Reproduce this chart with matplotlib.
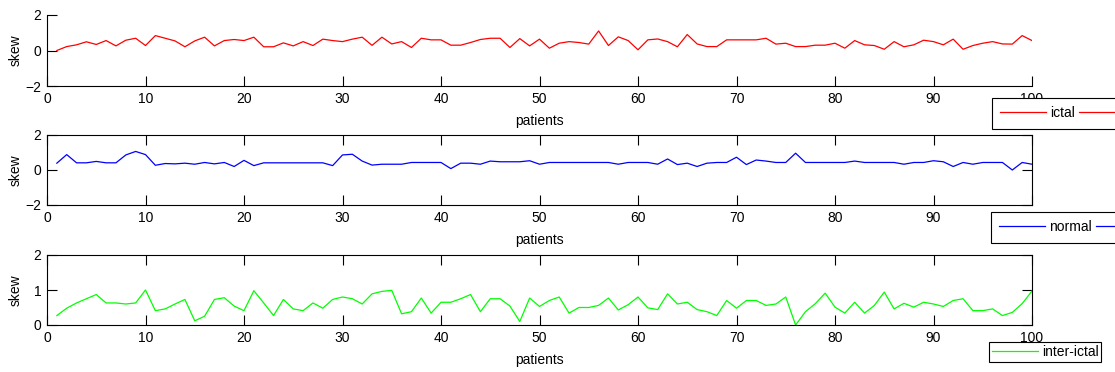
import matplotlib
matplotlib.use("Agg")
import matplotlib.pyplot as plt
from matplotlib.lines import Line2D
import numpy as np

plt.rcParams['font.family'] = ['Liberation Sans', 'DejaVu Sans']
plt.rcParams['font.size'] = 10

patients = list(range(1, 101))

ictal = [0.00, 0.22, 0.32, 0.49, 0.34, 0.56, 0.26, 0.58, 0.69, 0.28,
         0.84, 0.69, 0.54, 0.21, 0.54, 0.75, 0.26, 0.56, 0.62, 0.56,
         0.75, 0.21, 0.21, 0.43, 0.26, 0.50, 0.28, 0.64, 0.56, 0.50,
         0.64, 0.75, 0.29, 0.75, 0.37, 0.50, 0.17, 0.69, 0.60, 0.60,
         0.30, 0.30, 0.45, 0.62, 0.69, 0.69, 0.17, 0.67, 0.26, 0.64,
         0.13, 0.41, 0.50, 0.45, 0.36, 1.10, 0.28, 0.77, 0.56, 0.04,
         0.60, 0.65, 0.50, 0.21, 0.90, 0.37, 0.22, 0.22, 0.60, 0.60,
         0.60, 0.60, 0.69, 0.36, 0.41, 0.22, 0.22, 0.30, 0.30, 0.41,
         0.13, 0.56, 0.32, 0.28, 0.07, 0.50, 0.21, 0.32, 0.58, 0.50,
         0.32, 0.64, 0.07, 0.28, 0.41, 0.50, 0.37, 0.36, 0.84, 0.56]

normal = [0.39, 0.88, 0.41, 0.41, 0.49, 0.41, 0.41, 0.86, 1.06, 0.88,
          0.27, 0.37, 0.35, 0.39, 0.33, 0.43, 0.35, 0.43, 0.20, 0.55,
          0.25, 0.41, 0.41, 0.41, 0.41, 0.41, 0.41, 0.41, 0.25, 0.86,
          0.90, 0.51, 0.28, 0.33, 0.33, 0.33, 0.43, 0.43, 0.43, 0.43,
          0.08, 0.39, 0.39, 0.33, 0.51, 0.47, 0.47, 0.47, 0.53, 0.33,
          0.43, 0.43, 0.43, 0.43, 0.43, 0.43, 0.43, 0.33, 0.43, 0.43,
          0.43, 0.33, 0.63, 0.31, 0.39, 0.20, 0.39, 0.43, 0.43, 0.73,
          0.31, 0.57, 0.51, 0.43, 0.43, 0.96, 0.43, 0.43, 0.43, 0.43,
          0.43, 0.51, 0.43, 0.43, 0.43, 0.43, 0.33, 0.43, 0.43, 0.53,
          0.47, 0.20, 0.43, 0.33, 0.43, 0.43, 0.43, 0.00, 0.43, 0.33]

inter_ictal = [0.27, 0.48, 0.63, 0.75, 0.87, 0.63, 0.63, 0.60, 0.63, 1.00,
               0.41, 0.46, 0.60, 0.73, 0.12, 0.25, 0.73, 0.78, 0.54, 0.41,
               0.98, 0.63, 0.27, 0.73, 0.46, 0.41, 0.63, 0.48, 0.73, 0.80,
               0.75, 0.60, 0.89, 0.96, 0.99, 0.32, 0.38, 0.77, 0.34, 0.65,
               0.65, 0.75, 0.87, 0.38, 0.75, 0.75, 0.54, 0.10, 0.77, 0.53,
               0.70, 0.80, 0.34, 0.50, 0.50, 0.56, 0.77, 0.43, 0.58, 0.80,
               0.49, 0.44, 0.89, 0.60, 0.65, 0.44, 0.38, 0.27, 0.70, 0.48,
               0.70, 0.70, 0.56, 0.60, 0.80, 0.00, 0.38, 0.61, 0.91, 0.51,
               0.34, 0.65, 0.34, 0.56, 0.94, 0.46, 0.62, 0.51, 0.65, 0.60,
               0.53, 0.70, 0.75, 0.41, 0.41, 0.46, 0.27, 0.36, 0.61, 0.97]

xticks = [0, 10, 20, 30, 40, 50, 60, 70, 80, 90, 100]
yticks_a = [-2, 0, 2]
yticks_c = [0, 1, 2]

W, H = 1115, 372
fig = plt.figure(figsize=(W / 100, H / 100), dpi=100)


def px_axes(left, top, right, bottom):
    return fig.add_axes([left / W, 1 - bottom / H, (right - left) / W, (bottom - top) / H])


specs = [
    dict(data=ictal, color='#ff0000', label='ictal', ylim=(-2, 2), yticks=yticks_a,
         box=(47, 15, 1032, 86), boxed=False, leg=(992, 98), two=True, pad=0.6),
    dict(data=normal, color='#0000ff', label='normal', ylim=(-2, 2), yticks=yticks_a,
         box=(47, 135, 1032, 205), boxed=True, leg=(991, 212), two=True, pad=0.6),
    dict(data=inter_ictal, color='#00ff00', label='inter-ictal', ylim=(0, 2), yticks=yticks_c,
         box=(47, 255, 1032, 325), boxed=True, leg=(989, 342), two=False, pad=0.2),
]

for s in specs:
    ax = px_axes(*s['box'])
    ax.plot(patients, s['data'], color=s['color'], lw=0.9)
    ax.set_xlim(0, 100)
    ax.set_ylim(*s['ylim'])
    ax.set_xticks(xticks)
    ax.set_yticks(s['yticks'])
    ax.set_xlabel('patients', labelpad=6)
    ax.set_ylabel('skew')
    ax.yaxis.set_label_coords(-0.025, 0.5)
    for sp in ax.spines.values():
        sp.set_linewidth(0.8)
    if s['boxed']:
        ax.tick_params(direction='in', length=7, width=0.8, top=True, right=True, pad=4)
    else:
        ax.spines['top'].set_visible(False)
        ax.spines['right'].set_visible(False)
        ax.tick_params(direction='in', length=7, width=0.8, pad=4)
    handle = Line2D([], [], color=s['color'], lw=0.9)
    if s['two']:
        handles, labels, ncol = [handle, handle], [s['label'], ' '], 2
    else:
        handles, labels, ncol = [handle], [s['label']], 1
    lx, ly = s['leg']
    leg = fig.legend(handles, labels, loc='upper left', bbox_to_anchor=(lx / W, 1 - ly / H),
                     bbox_transform=fig.transFigure, borderaxespad=0, ncol=ncol,
                     fancybox=False, framealpha=1, edgecolor='black',
                     handlelength=3.3, handletextpad=0.3, columnspacing=0.3,
                     borderpad=s['pad'])
    leg.get_frame().set_linewidth(0.8)
    leg.set_zorder(10)

fig.savefig('out.png', dpi=100)
